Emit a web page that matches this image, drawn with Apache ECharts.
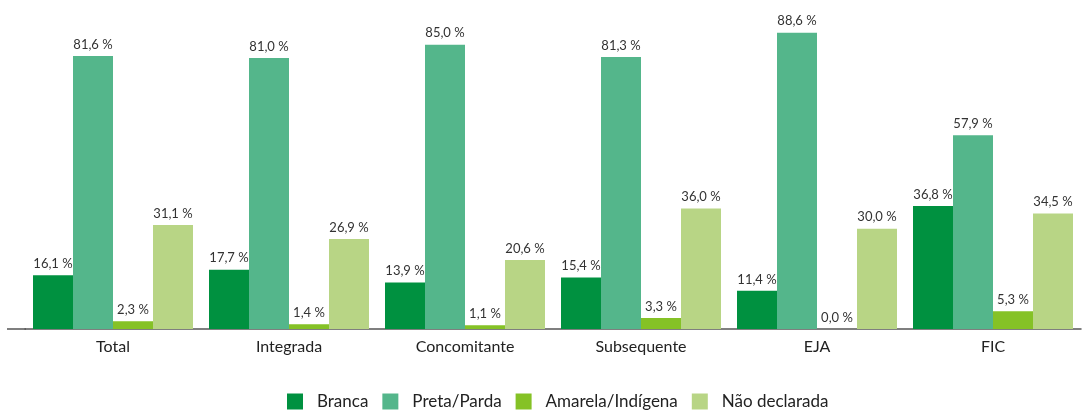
<!DOCTYPE html>
<html>
<head>
<meta charset="utf-8">
<script src="https://cdn.jsdelivr.net/npm/echarts@6/dist/echarts.min.js"></script>
<style>
html, body { margin: 0; padding: 0; background: #fff; }
#chart { width: 1084px; height: 410px; }
</style>
</head>
<body>
<div id="chart"></div>
<script>
// categorias e valores (%)
var categories = ['Total', 'Integrada', 'Concomitante', 'Subsequente', 'EJA', 'FIC'];
var seriesNames = ['Branca', 'Preta/Parda', 'Amarela/Indígena', 'Não declarada'];
var branca = [16.1, 17.7, 13.9, 15.4, 11.4, 36.8];
var pretaParda = [81.6, 81.0, 85.0, 81.3, 88.6, 57.9];
var amarelaIndigena = [2.3, 1.4, 1.1, 3.3, 0.0, 5.3];
var naoDeclarada = [31.1, 26.9, 20.6, 36.0, 30.0, 34.5];
var colors = ['#009140', '#54b68b', '#85c226', '#b8d585'];

var myChart = echarts.init(document.getElementById('chart'));

function makeSeries(name, data, color) {
    return {
        name: name,
        type: 'bar',
        barWidth: 40,
        barGap: '0%',
        itemStyle: { color: color },
        label: {
            show: true,
            position: 'top',
            distance: 5,
            color: '#333',
            fontSize: 13,
            fontFamily: 'Lato',
            formatter: function (p) {
                return p.value.toFixed(1).replace('.', ',') + ' %';
            }
        },
        data: data
    };
}

var option = {
    animation: false,
    textStyle: { fontFamily: 'Lato' },
    grid: { left: 25, right: 3, top: 28, bottom: 81 },
    legend: {
        data: seriesNames,
        left: 287,
        top: 393,
        padding: 0,
        itemWidth: 16,
        itemHeight: 16,
        itemGap: 14,
        icon: 'rect',
        textStyle: { fontSize: 17, color: '#222', fontFamily: 'Lato', padding: [0, 0, 0, 9] }
    },
    xAxis: {
        type: 'category',
        data: categories,
        axisLine: { lineStyle: { color: '#555', width: 1.5 } },
        axisTick: { show: false },
        axisLabel: { color: '#222', fontSize: 16, margin: 10 }
    },
    yAxis: {
        type: 'value',
        min: 0,
        max: 90,
        show: false
    },
    series: [
        makeSeries(seriesNames[0], branca, colors[0]),
        makeSeries(seriesNames[1], pretaParda, colors[1]),
        makeSeries(seriesNames[2], amarelaIndigena, colors[2]),
        makeSeries(seriesNames[3], naoDeclarada, colors[3])
    ],
    // extensão da linha do eixo à esquerda
    graphic: [{
        type: 'line',
        shape: { x1: 7, y1: 329, x2: 26, y2: 329 },
        style: { stroke: '#555', lineWidth: 1.5 }
    }]
};

myChart.setOption(option);
</script>
</body>
</html>
